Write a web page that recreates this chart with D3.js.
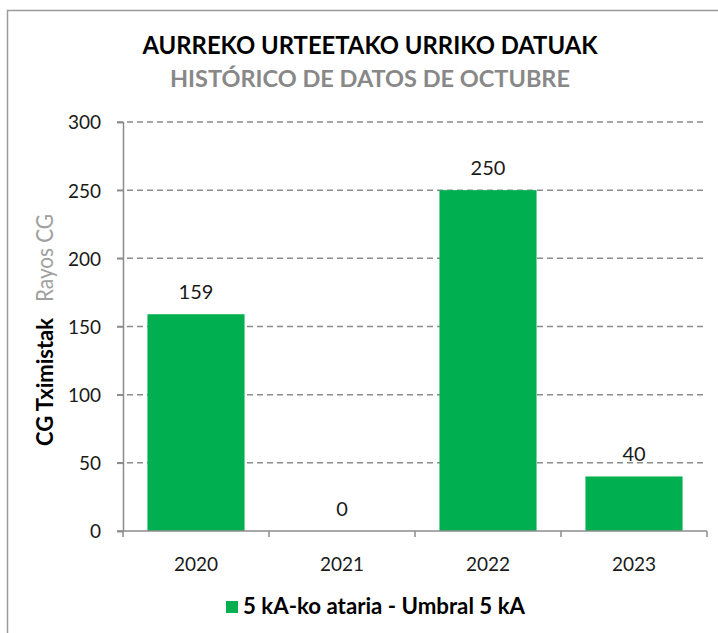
<!DOCTYPE html>
<html><head><meta charset="utf-8">
<script src="https://cdn.jsdelivr.net/npm/d3@7"></script>
<style>body{margin:0;background:#fff}svg{display:block}</style>
</head><body><svg id="c" width="718" height="633"></svg>
<script>
const categories = ["2020","2021","2022","2023"];
const values = [159, 0, 250, 40];
const yTicks = [0,50,100,150,200,250,300];
const title = "AURREKO URTEETAKO URRIKO DATUAK";
const subtitle = "HISTÓRICO DE DATOS DE OCTUBRE";
const yLabelMain = "CG Tximistak";
const yLabelSub = "Rayos CG";
const legendLabel = "5 kA-ko ataria - Umbral 5 kA";

const svg = d3.select("#c");
const F = "Lato, 'Open Sans', sans-serif";
const green = "#00b050", grey = "#8c8c8c";
svg.append("rect").attr("width",718).attr("height",633).attr("fill","#fff");
svg.append("rect").attr("x",7.5).attr("y",10.5).attr("width",800).attr("height",700)
  .attr("fill","none").attr("stroke","#9a9a9a").attr("stroke-width",1.5);

const L=123,R=707,T=122,B=531;
const y = d3.scaleLinear().domain([0,300]).range([B,T]);
const x = d3.scaleBand().domain(categories).range([L,R]).paddingInner(0.335).paddingOuter(0.1675);

// grid
svg.append("g").selectAll("line").data(yTicks.filter(d=>d>0)).join("line")
  .attr("x1",117).attr("x2",R).attr("y1",d=>y(d)).attr("y2",d=>y(d))
  .attr("stroke",grey).attr("stroke-width",1.5).attr("stroke-dasharray","6,4");

// bars
svg.append("g").selectAll("rect").data(values).join("rect")
  .attr("x",(d,i)=>x(categories[i])).attr("width",x.bandwidth())
  .attr("y",d=>y(d)).attr("height",d=>B-y(d)).attr("fill",green);

// y axis
const ya = svg.append("g").attr("transform",`translate(${L},0)`)
  .call(d3.axisLeft(y).tickValues(yTicks).tickSize(6).tickPadding(16));
ya.select(".domain").attr("stroke",grey).attr("stroke-width",1.5);
ya.selectAll(".tick line").attr("stroke",grey).attr("stroke-width",1.5);
ya.selectAll("text").attr("font-family",F).attr("font-size",19).attr("fill","#1a1a1a").attr("dy","0.36em");

// x axis
const xl = d3.scaleLinear().domain([0,4]).range([L,R]);
svg.append("line").attr("x1",117).attr("x2",R).attr("y1",B).attr("y2",B).attr("stroke",grey).attr("stroke-width",1.5);
svg.append("g").selectAll("line").data(d3.range(5)).join("line")
  .attr("x1",d=>xl(d)).attr("x2",d=>xl(d)).attr("y1",B).attr("y2",B+6).attr("stroke",grey).attr("stroke-width",1.5);
svg.append("g").selectAll("text").data(categories).join("text")
  .attr("x",d=>x(d)+x.bandwidth()/2).attr("y",571).attr("text-anchor","middle")
  .attr("font-family",F).attr("font-size",19).attr("fill","#1a1a1a").text(d=>d);

// value labels
svg.append("g").selectAll("text").data(values).join("text")
  .attr("x",(d,i)=>x(categories[i])+x.bandwidth()/2).attr("y",d=>y(d)-15)
  .attr("text-anchor","middle").attr("font-family",F).attr("font-size",20).attr("fill","#1a1a1a").text(d=>d);

// titles
svg.append("text").attr("x",370).attr("y",54).attr("text-anchor","middle")
  .attr("font-family",F).attr("font-weight","bold").attr("font-size",24).attr("fill","#000")
  .attr("textLength",455).attr("lengthAdjust","spacingAndGlyphs").text(title);
svg.append("text").attr("x",370).attr("y",87).attr("text-anchor","middle")
  .attr("font-family",F).attr("font-weight","bold").attr("font-size",23.5).attr("fill","#888")
  .attr("textLength",400).attr("lengthAdjust","spacingAndGlyphs").text(subtitle);

// y label
svg.append("text").attr("transform","translate(53,382) rotate(-90)")
  .attr("text-anchor","middle").attr("font-family",F).attr("font-size",23).attr("font-weight","bold")
  .attr("fill","#000").attr("textLength",128).attr("lengthAdjust","spacingAndGlyphs").text(yLabelMain);
svg.append("text").attr("transform","translate(53,258) rotate(-90)")
  .attr("text-anchor","middle").attr("font-family",F).attr("font-size",23)
  .attr("fill","#a0a0a0").attr("textLength",88).attr("lengthAdjust","spacingAndGlyphs").text(yLabelSub);

// legend
svg.append("rect").attr("x",226).attr("y",601).attr("width",12).attr("height",12).attr("fill",green);
svg.append("text").attr("x",243).attr("y",614).attr("font-family",F).attr("font-weight","bold")
  .attr("font-size",22).attr("fill","#000").attr("textLength",282).attr("lengthAdjust","spacingAndGlyphs").text(legendLabel);
</script></body></html>
